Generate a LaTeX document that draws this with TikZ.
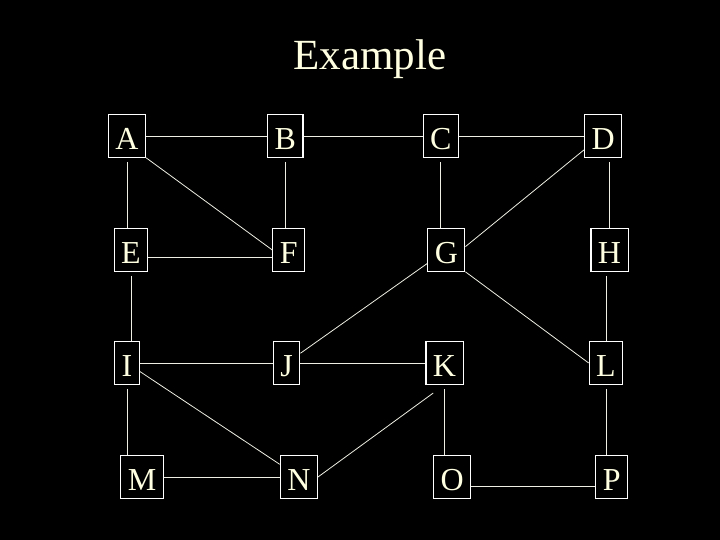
\documentclass[tikz,border=0pt]{standalone}
\usepackage{fontspec}
\setmainfont{Liberation Serif}
\usepackage{tikz}
\usetikzlibrary{positioning, calc}
\definecolor{mycream}{RGB}{255,255,226}
\definecolor{myline}{RGB}{238,238,228}
\tikzset{
  letter/.style={draw=white, line width=1.1pt, rectangle, text=mycream, font=\fontsize{32}{36}\selectfont, inner xsep=7pt, inner ysep=0pt, text height=35pt, text depth=7.5pt},
  link/.style={draw=myline, line width=0.8pt},
  vlink/.style={link, shorten <=4pt}
}

\begin{document}
\begin{tikzpicture}[x=1pt, y=-1pt]
  \fill [black] (0,0) rectangle (720,540);
  \node [text=mycream, font=\fontsize{43}{48}\selectfont, anchor=base] (title) at (370,70) {Example};

  \node [letter] (a) at (127,136) {A};
  \node [letter, right=121pt of a] (b) {B};
  \node [letter, right=119pt of b] (c) {C};
  \node [letter, right=125pt of c] (d) {D};

  \node [letter] (e) at (131,250) {E};
  \node [letter, right=124pt of e] (f) {F};
  \node [letter, right=122pt of f] (g) {G};
  \node [letter, right=125pt of g] (h) {H};

  \node [letter] (i) at (127,363) {I};
  \node [letter, right=133pt of i] (j) {J};
  \node [letter, right=125pt of j] (k) {K};
  \node [letter, right=125pt of k] (l) {L};

  \node [letter] (m) at (142,477) {M};
  \node [letter, right=116pt of m] (n) {N};
  \node [letter, right=115pt of n] (o) {O};
  \node [letter, right=124pt of o] (p) {P};

  \draw [link] (a) -- (b);
  \draw [link] (b) -- (c);
  \draw [link] (c) -- (d);
  \draw [link] ([yshift=-7pt]e.east) -- ([yshift=-7pt]f.west);
  \draw [link] (i) -- (j);
  \draw [link] (j) -- (k);
  \draw [link] (m) -- (n);
  \draw [link] ([yshift=-9pt]o.east) -- ([yshift=-9pt]p.west);

  \draw [vlink] (a.south) -- (a.south |- e.north);
  \draw [vlink] (b.south) -- (b.south |- f.north);
  \draw [vlink] (c.south) -- (c.south |- g.north);
  \draw [vlink] (h.north |- d.south) -- (h.north);
  \draw [vlink] (e.south) -- (e.south |- i.north);
  \draw [vlink] (l.north |- h.south) -- (l.north);
  \draw [vlink] (i.south) -- (i.south |- m.north);
  \draw [vlink] (k.south) -- (k.south |- o.north);
  \draw [vlink] (l.south) -- (l.south |- p.north);

  \draw [link] (a.south east) -- (f.west);
  \draw [link] (d.216) -- (g.10);
  \draw [link] (j) -- (g);
  \draw [link] (g.south east) -- (l.west);
  \draw [link] (i) -- (n);
  \draw [link, shorten <=14pt] (k.south) -- (n.east);
\end{tikzpicture}
\end{document}
